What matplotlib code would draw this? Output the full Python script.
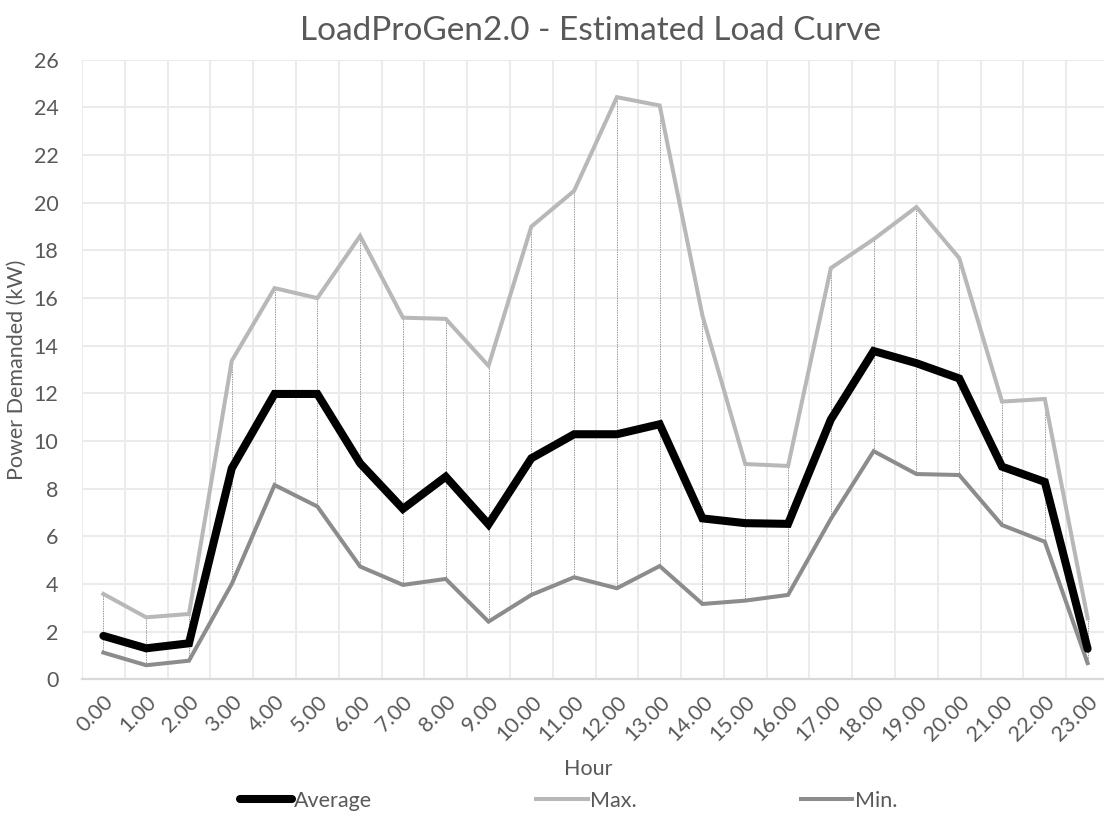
import matplotlib
matplotlib.use("Agg")
import matplotlib.pyplot as plt
from matplotlib.ticker import MultipleLocator, FixedLocator

hours = ["0.00", "1.00", "2.00", "3.00", "4.00", "5.00", "6.00", "7.00", "8.00", "9.00",
         "10.00", "11.00", "12.00", "13.00", "14.00", "15.00", "16.00", "17.00", "18.00",
         "19.00", "20.00", "21.00", "22.00", "23.00"]
average = [1.82, 1.30, 1.51, 8.85, 11.97, 11.97, 9.06, 7.15, 8.50, 6.50, 9.27, 10.28,
           10.28, 10.70, 6.75, 6.55, 6.52, 10.90, 13.77, 13.26, 12.62, 8.92, 8.28, 1.28]
maximum = [3.58, 2.60, 2.74, 13.36, 16.41, 15.99, 18.60, 15.17, 15.12, 13.15, 18.99, 20.49,
           24.42, 24.07, 15.25, 9.03, 8.95, 17.25, 18.46, 19.81, 17.67, 11.65, 11.76, 2.56]
minimum = [1.12, 0.59, 0.78, 4.00, 8.15, 7.25, 4.73, 3.96, 4.21, 2.42, 3.54, 4.28,
           3.82, 4.75, 3.16, 3.30, 3.54, 6.73, 9.57, 8.61, 8.57, 6.47, 5.77, 0.68]

FONT = ["Lato", "DejaVu Sans"]
plt.rcParams["font.family"] = FONT
TXT = "#595959"
FS = 15.5

W, H = 1104, 816
fig = plt.figure(figsize=(W / 100, H / 100), dpi=100)
ax = fig.add_axes([82 / W, (H - 679.3) / H, (1109 - 82) / W, (679.3 - 59.5) / H])

x = list(range(len(hours)))

ax.vlines(x, minimum, maximum, colors="#9a9a9a", linewidth=0.7, linestyles=(0, (1.5, 1)), zorder=2)
l_min, = ax.plot(x, minimum, color="#8c8c8c", linewidth=2.9, solid_joinstyle="miter", zorder=3, label="Min.")
l_max, = ax.plot(x, maximum, color="#b8b8b8", linewidth=2.9, solid_joinstyle="miter", zorder=3, label="Max.")
l_avg, = ax.plot(x, average, color="black", linewidth=5.8, solid_joinstyle="miter",
                 solid_capstyle="round", zorder=4, label="Average")

ax.set_xlim(-0.5, len(hours) - 0.5)
ax.set_ylim(0, 26)
ax.yaxis.set_major_locator(MultipleLocator(2))
ax.set_xticks(x)
ax.set_xticklabels(hours, rotation=45, ha="right", va="top", rotation_mode="anchor")
ax.xaxis.set_minor_locator(FixedLocator([i + 0.5 for i in range(-1, len(hours))]))

ax.grid(True, which="major", axis="y", color="#ebebeb", linewidth=1.4, zorder=0)
ax.grid(True, which="minor", axis="x", color="#ebebeb", linewidth=1.4, zorder=0)
ax.set_axisbelow(True)

for s in ["top", "right", "left"]:
    ax.spines[s].set_visible(False)
ax.spines["bottom"].set_color("#d9d9d9")
ax.spines["bottom"].set_linewidth(1.6)

ax.tick_params(axis="both", which="both", length=0, colors=TXT, labelsize=FS)
ax.tick_params(axis="x", pad=9)
ax.tick_params(axis="y", pad=17)

fig.text(588 / W, 1 - 769 / H, "Hour", ha="center", va="center", fontsize=FS, color=TXT)
fig.text(17 / W, 1 - 370 / H, "Power Demanded (kW)", ha="center", va="center",
         rotation=90, fontsize=FS, color=TXT)

fig.text(591 / W, 1 - 31 / H, "LoadProGen2.0 - Estimated Load Curve", ha="center", va="center",
         fontsize=24, color=TXT)

leg = fig.legend(handles=[l_avg, l_max, l_min], labels=["Average", "Max.", "Min."],
                 loc="center left", bbox_to_anchor=(240 / W, 1 - 801 / H), ncol=3, frameon=False,
                 fontsize=FS, handlelength=2.4, handletextpad=0.12, columnspacing=7.6,
                 borderaxespad=0, borderpad=0)
for t in leg.get_texts():
    t.set_color(TXT)

fig.savefig("out.png", dpi=100)
